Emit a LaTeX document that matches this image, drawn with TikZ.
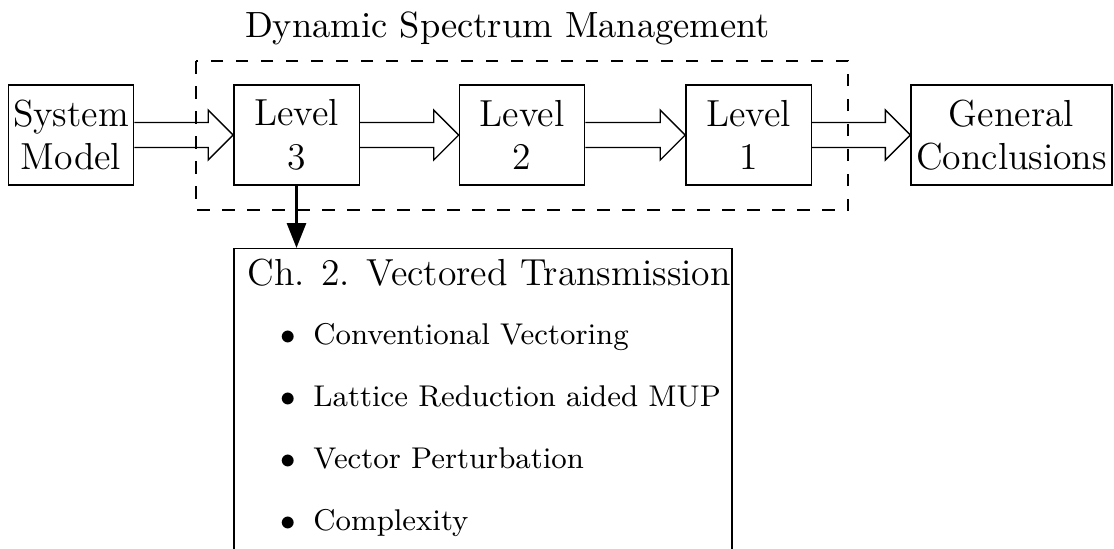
\documentclass[tikz,border=0pt]{standalone}
\usepackage{fontspec}
\usetikzlibrary{calc,arrows.meta}

% font sizes for box labels, the group title and list entries
\newcommand\hdfont{\fontsize{11.3}{13.1}\selectfont}
\newcommand\ttlfont{\fontsize{10.95}{13}\selectfont}
\newcommand\itfont{\fontsize{9.0}{10.8}\selectfont}
\newcommand\entry[1]{$\bullet$\hspace{5.2pt}#1}

% wide open-backed arrow from the east side of #1 to the west side of #2
\newcommand\hollowarrow[2]{%
  \draw[thin, line join=miter]
    ($(#1.east)+(0,-12.5)$) -- ($(#2.west)+(-25,-12.5)$) --
    ($(#2.west)+(-25,-25)$) -- (#2.west) --
    ($(#2.west)+(-25,25)$) -- ($(#2.west)+(-25,12.5)$) --
    ($(#1.east)+(0,12.5)$);}

\begin{document}
\begin{tikzpicture}[x=0.3pt, y=-0.3pt,
  box/.style={draw, thin, align=center, minimum width=37.6pt,
    minimum height=30pt, inner sep=0.6pt, font=\hdfont},
  group/.style={draw, thin, dash pattern=on 3.75pt off 3.75pt},
  listentry/.style={anchor=base west, inner sep=0pt, font=\itfont},
]
\useasboundingbox (0,0) rectangle (1114,548);
\clip (0,0) rectangle (1114,548);

% main chain
\node[box] (sys) at (71,135) {System\\Model};
\node[box] (l3) at (296.5,135) {Level\\3};
\node[box] (l2) at (522,135) {Level\\2};
\node[box] (l1) at (748.5,135) {Level\\1};
\node[box, minimum width=60.3pt] (gc) at (1011.5,135) {General\\Conclusions};

% grouping of the three levels
\draw[group] (196,61) rectangle (848,210);
\node[font=\ttlfont, anchor=base, inner sep=0pt] (title) at (507.5,37)
  {Dynamic Spectrum Management};

\hollowarrow{sys}{l3}
\hollowarrow{l3}{l2}
\hollowarrow{l2}{l1}
\hollowarrow{l1}{gc}

% chapter box below level 3
\node[draw, thin, anchor=north, minimum width=149.4pt, minimum height=100pt]
  (ch2) at (483,248) {};
\draw[line width=0.9pt, -{Triangle[length=7.5pt,width=5.7pt]}]
  (l3.south) -- (l3.south |- ch2.north);

\node[anchor=base west, inner sep=0pt, font=\hdfont] (ch2title) at (247,285)
  {Ch. 2. Vectored Transmission};
\node[listentry] (e1) at (280,344) {\entry{Conventional Vectoring}};
\node[listentry] (e2) at (280,406) {\entry{Lattice Reduction aided MUP}};
\node[listentry] (e3) at (280,468) {\entry{Vector Perturbation}};
\node[listentry] (e4) at (280,530) {\entry{Complexity}};
\end{tikzpicture}
\end{document}
